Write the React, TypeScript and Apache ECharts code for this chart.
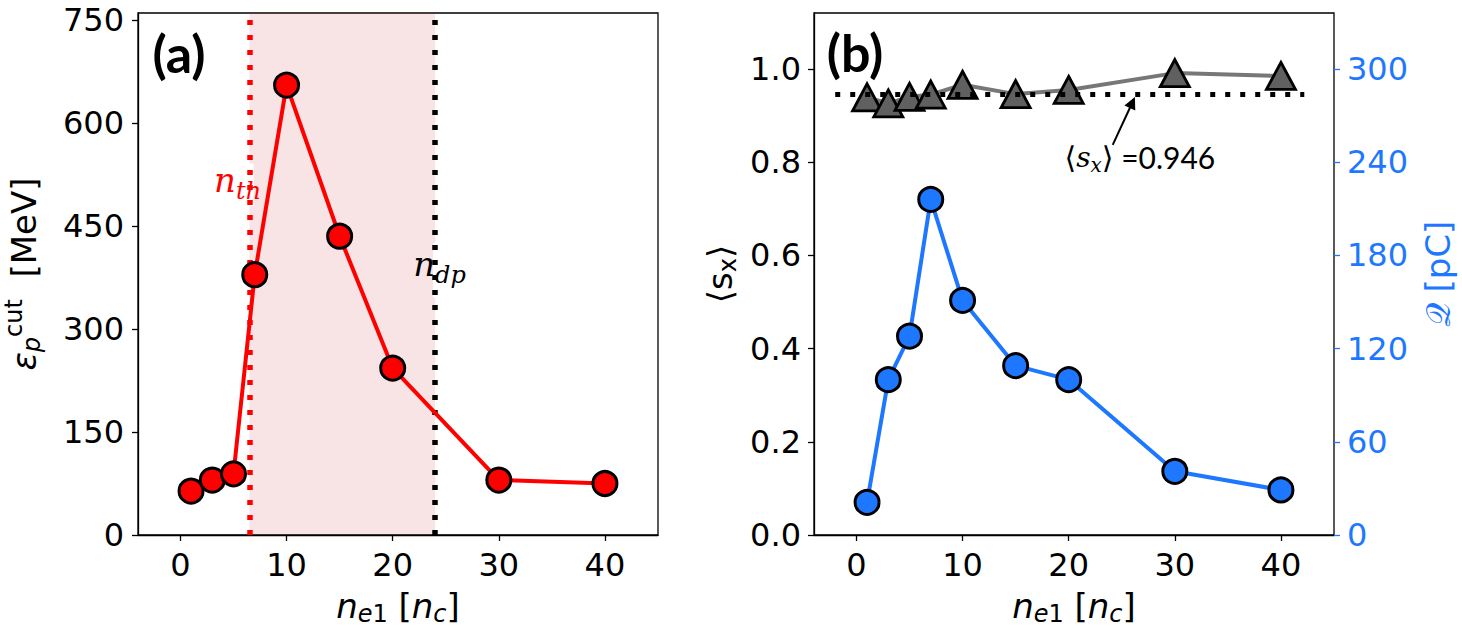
import React, { useEffect, useRef } from "react";
import * as echarts from "echarts";

// ---- data ----
const X_VALUES = [1, 3, 5, 7, 10, 15, 20, 30, 40];
const ENERGY = [64, 80, 89, 379, 655, 435, 243, 80, 75];
const SX = [0.939, 0.926, 0.94, 0.945, 0.966, 0.946, 0.955, 0.991, 0.985];
const CHARGE = [21, 100, 128, 216, 151, 109, 100, 41, 29];
const X_TICKS = [0, 10, 20, 30, 40];
const E_TICKS = [0, 150, 300, 450, 600, 750];
const S_TICKS = [0, 0.2, 0.4, 0.6, 0.8, 1.0];
const Q_TICKS = [0, 60, 120, 180, 240, 300];
const N_TH = 6.5;
const N_DP = 24;
const SX_MEAN = 0.946;

const RED = "#ff0000";
const BLUE = "#1e78ff";
const TICK_FONT = 32;
const TITLE_FONT = 34;
const SANS = "DejaVu Sans";
const SERIF = "DejaVu Serif";

const titleRich = (color: string) => ({
  i: { fontFamily: SANS, fontStyle: "italic", fontSize: TITLE_FONT, lineHeight: 40, color },
  u: { fontFamily: SANS, fontSize: TITLE_FONT, lineHeight: 40, color },
  si: { fontFamily: SANS, fontStyle: "italic", fontSize: 24, lineHeight: 40, padding: [16, 0, 0, 0], color },
  su: { fontFamily: SANS, fontSize: 24, lineHeight: 40, padding: [16, 0, 0, 0], color },
  sp: { fontFamily: SANS, fontSize: 24, lineHeight: 40, padding: [0, 0, 20, 0], color },
  q: { fontFamily: "DejaVu Sans, Noto Sans, serif", fontSize: TITLE_FONT, lineHeight: 40, color },
});

const xAxisFor = (gridIndex: number) => ({
  type: "value",
  gridIndex,
  min: -4,
  max: 45,
  splitLine: { show: false },
  axisLine: { show: true, onZero: false, lineStyle: { color: "#000", width: 1.3 } },
  axisTick: { show: true, customValues: X_TICKS, length: 6, lineStyle: { color: "#000", width: 1.3 } },
  axisLabel: { customValues: X_TICKS, margin: 14, fontSize: TICK_FONT, color: "#000", fontFamily: SANS },
  name: "{i|n}{si|e}{su|1}{u| [}{i|n}{si|c}{u|]}",
  nameLocation: "middle",
  nameGap: 45,
  nameTextStyle: { rich: titleRich("#000") },
});

const gridBase = {
  top: 13,
  width: 520,
  height: 522,
  show: true,
  borderColor: "#000",
  borderWidth: 1.3,
  backgroundColor: "transparent",
  containLabel: false,
  outerBoundsMode: "none",
};

const option: any = {
  animation: false,
  backgroundColor: "#fff",
  grid: [
    { ...gridBase, left: 138 },
    { ...gridBase, left: 814 },
  ],
  xAxis: [xAxisFor(0), xAxisFor(1)],
  yAxis: [
    {
      type: "value",
      gridIndex: 0,
      min: 0,
      max: 760,
      splitLine: { show: false },
      axisLine: { show: true, onZero: false, lineStyle: { color: "#000", width: 1.3 } },
      axisTick: { show: true, customValues: E_TICKS, length: 6, lineStyle: { color: "#000", width: 1.3 } },
      axisLabel: { customValues: E_TICKS, margin: 14, fontSize: TICK_FONT, color: "#000", fontFamily: SANS },
      name: "{i|ε}{si|p}{sp|cut}{u|  [MeV]}",
      nameLocation: "middle",
      nameRotate: 90,
      nameGap: 94,
      nameTextStyle: { rich: titleRich("#000") },
    },
    {
      type: "value",
      gridIndex: 1,
      min: 0,
      max: 1.12,
      splitLine: { show: false },
      axisLine: { show: true, onZero: false, lineStyle: { color: "#000", width: 1.3 } },
      axisTick: { show: true, customValues: S_TICKS, length: 6, lineStyle: { color: "#000", width: 1.3 } },
      axisLabel: {
        customValues: S_TICKS,
        margin: 13,
        fontSize: TICK_FONT,
        color: "#000",
        fontFamily: SANS,
        formatter: (v: number) => v.toFixed(1),
      },
      name: "{u|⟨s}{su|x}{u|⟩}",
      nameLocation: "middle",
      nameRotate: 90,
      nameGap: 74,
      nameTextStyle: { rich: titleRich("#000") },
    },
    {
      type: "value",
      gridIndex: 1,
      position: "right",
      min: 0,
      max: 336,
      splitLine: { show: false },
      axisLine: { show: false, onZero: false },
      axisTick: { show: true, customValues: Q_TICKS, length: 6, lineStyle: { color: BLUE, width: 1.3 } },
      axisLabel: { customValues: Q_TICKS, margin: 13, fontSize: TICK_FONT, color: BLUE, fontFamily: SANS },
      name: "{q|𝒬}{u| [pC]}",
      nameLocation: "middle",
      nameRotate: 90,
      nameGap: 84,
      nameTextStyle: { rich: titleRich(BLUE) },
    },
  ],
  series: [
    // shaded region between n_th and n_dp
    {
      type: "line",
      xAxisIndex: 0,
      yAxisIndex: 0,
      data: [],
      z: 1,
      silent: true,
      markArea: {
        silent: true,
        itemStyle: { color: "rgba(200,50,50,0.13)" },
        data: [[{ xAxis: N_TH }, { xAxis: N_DP }]],
      },
    },
    // vertical dotted lines
    {
      type: "line",
      xAxisIndex: 0,
      yAxisIndex: 0,
      data: [],
      z: 2,
      silent: true,
      markLine: {
        silent: true,
        symbol: ["none", "none"],
        label: { show: false },
        data: [
          { xAxis: N_TH, lineStyle: { color: RED, width: 5.5, type: [5, 10], cap: "butt" } },
          { xAxis: N_DP, lineStyle: { color: "#000", width: 5.5, type: [5, 10], cap: "butt" } },
        ],
      },
    },
    // white boxes behind the threshold labels
    {
      type: "line",
      xAxisIndex: 0,
      yAxisIndex: 0,
      data: [],
      z: 3,
      silent: true,
      markArea: {
        silent: true,
        itemStyle: { color: "#ffffff" },
        data: [
          [{ coord: [4.5, 479] }, { coord: [6.9, 541] }],
          [{ coord: [23.8, 346] }, { coord: [27.0, 425] }],
        ],
      },
    },
    {
      type: "line",
      name: "energy",
      xAxisIndex: 0,
      yAxisIndex: 0,
      z: 5,
      data: X_VALUES.map((x, i) => [x, ENERGY[i]]),
      symbol: "circle",
      symbolSize: 24,
      itemStyle: { color: RED, borderColor: "#000", borderWidth: 3 },
      lineStyle: { color: RED, width: 4, join: "round" },
      emphasis: { disabled: true },
    },
    // mean line
    {
      type: "line",
      xAxisIndex: 1,
      yAxisIndex: 1,
      data: [],
      z: 2,
      silent: true,
      markLine: {
        silent: true,
        symbol: ["none", "none"],
        label: { show: false },
        data: [
          [
            { coord: [-2, SX_MEAN], lineStyle: { color: "#000", width: 5, type: [5, 10], cap: "butt" } },
            { coord: [42.2, SX_MEAN] },
          ],
        ],
      },
    },
    // annotation arrow
    {
      type: "line",
      xAxisIndex: 1,
      yAxisIndex: 1,
      data: [],
      z: 6,
      silent: true,
      markLine: {
        silent: true,
        symbol: ["none", "triangle"],
        symbolSize: 12,
        label: { show: false },
        lineStyle: { color: "#000", width: 2, type: "solid" },
        itemStyle: { color: "#000" },
        data: [[{ coord: [24.15, 0.837] }, { coord: [26.0, 0.928] }]],
      },
    },
    {
      type: "line",
      name: "sx",
      xAxisIndex: 1,
      yAxisIndex: 1,
      z: 4,
      data: X_VALUES.map((x, i) => [x, SX[i]]),
      symbol: "triangle",
      symbolSize: [29, 27],
      itemStyle: { color: "#606060", borderColor: "#000", borderWidth: 2.8 },
      lineStyle: { color: "#777777", width: 4, join: "round" },
      emphasis: { disabled: true },
    },
    {
      type: "line",
      name: "charge",
      xAxisIndex: 1,
      yAxisIndex: 2,
      z: 5,
      data: X_VALUES.map((x, i) => [x, CHARGE[i]]),
      symbol: "circle",
      symbolSize: 24,
      itemStyle: { color: BLUE, borderColor: "#000", borderWidth: 3 },
      lineStyle: { color: BLUE, width: 4, join: "round" },
      emphasis: { disabled: true },
    },
  ],
};

export default function App() {
  const ref = useRef<HTMLDivElement>(null);
  useEffect(() => {
    document.body.style.margin = "0";
    const chart = echarts.init(ref.current!, null, { renderer: "svg" });
    chart.setOption(option);
    const px = (xi: number, yi: number, v: number[]) =>
      chart.convertToPixel({ xAxisIndex: xi, yAxisIndex: yi } as any, v) as number[];

    const pa = px(0, 0, [-2.64, 702]);
    const pb = px(1, 1, [-2.8, 1.036]);
    const pth = px(0, 0, [7.6, 517]);
    const pdp = px(0, 0, [21.93, 394]);
    const pann = px(1, 1, [19.6, 0.81]);

    const labelRich = (fill: string) => ({
      n: { fontFamily: SERIF, fontStyle: "italic", fontSize: 34, lineHeight: 44, fill },
      s: { fontFamily: SERIF, fontStyle: "italic", fontSize: 24, lineHeight: 44, padding: [22, 0, 0, 0], fill },
    });

    chart.setOption({
      graphic: [
        {
          type: "text",
          x: pa[0],
          y: pa[1],
          z: 100,
          style: { text: "(a)", fontFamily: "Lato", fontWeight: "bold", fontSize: 52, fill: "#000", textAlign: "left", textVerticalAlign: "middle" },
        },
        {
          type: "text",
          x: pb[0],
          y: pb[1],
          z: 100,
          style: { text: "(b)", fontFamily: "Lato", fontWeight: "bold", fontSize: 52, fill: "#000", textAlign: "left", textVerticalAlign: "middle" },
        },
        {
          type: "text",
          x: pth[0],
          y: pth[1],
          z: 100,
          style: { text: "{n|n}{s|th}", rich: labelRich(RED), textAlign: "right", textVerticalAlign: "middle" },
        },
        {
          type: "text",
          x: pdp[0],
          y: pdp[1],
          z: 100,
          style: { text: "{n|n}{s|dp}", rich: labelRich("#000"), textAlign: "left", textVerticalAlign: "middle" },
        },
        {
          type: "text",
          x: pann[0],
          y: pann[1],
          z: 100,
          style: {
            text: "{b|⟨}{s|s}{x|x}{b|⟩}{t| =0.946}",
            textAlign: "left",
            textVerticalAlign: "middle",
            rich: {
              b: { fontFamily: SANS, fontSize: 30, lineHeight: 40, fill: "#000" },
              s: { fontFamily: SERIF, fontStyle: "italic", fontSize: 28, lineHeight: 40, fill: "#000" },
              x: { fontFamily: SERIF, fontStyle: "italic", fontSize: 20, lineHeight: 40, padding: [16, 0, 0, 0], fill: "#000" },
              t: { fontFamily: "Lato", fontSize: 30, lineHeight: 40, fill: "#000" },
            },
          },
        },
      ],
    });
    return () => chart.dispose();
  }, []);
  return <div ref={ref} style={{ width: 1462, height: 628 }} />;
}
